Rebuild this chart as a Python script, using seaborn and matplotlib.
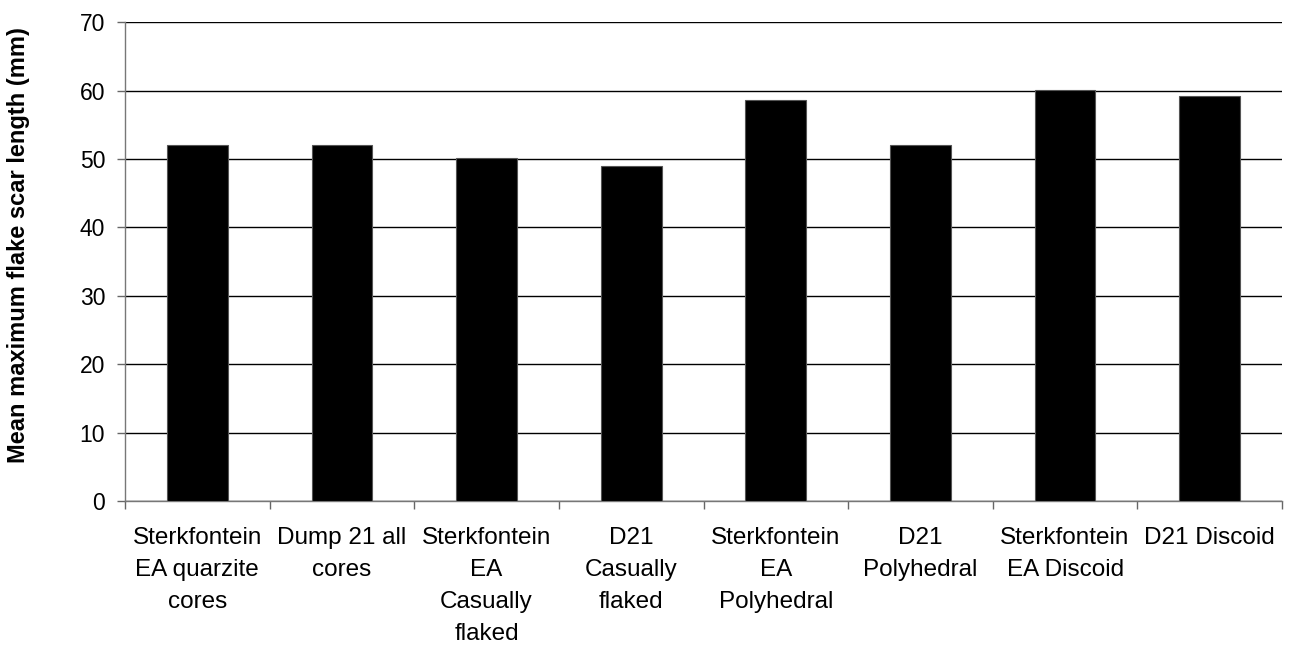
import matplotlib
matplotlib.use("Agg")
import matplotlib.pyplot as plt
import seaborn as sns
import pandas as pd
import numpy as np

categories = [
    "Sterkfontein\nEA quarzite\ncores",
    "Dump 21 all\ncores",
    "Sterkfontein\nEA\nCasually\nflaked",
    "D21\nCasually\nflaked",
    "Sterkfontein\nEA\nPolyhedral",
    "D21\nPolyhedral",
    "Sterkfontein\nEA Discoid",
    "D21 Discoid",
]
values = [52.1, 52.1, 50.1, 49.0, 58.6, 52.1, 60.1, 59.2]
yticks = [0, 10, 20, 30, 40, 50, 60, 70]

sns.set_theme(style="white")
plt.rcParams['font.family'] = ['Liberation Sans', 'DejaVu Sans']
plt.rcParams['text.color'] = 'black'
plt.rcParams['xtick.color'] = 'black'
plt.rcParams['ytick.color'] = 'black'
plt.rcParams['axes.labelcolor'] = 'black'

df = pd.DataFrame({"cat": categories, "val": values})

fig = plt.figure(figsize=(12.93, 6.45), dpi=100)
ax = fig.add_axes([0.0967, 0.2233, 0.8948, 0.7421])
sns.barplot(data=df, x="cat", y="val", color="black", width=0.42,
            edgecolor="#555555", linewidth=0.8, saturation=1, ax=ax, zorder=3)

ax.set_ylim(0, 70)
ax.set_xlim(-0.5, len(categories) - 0.5)
ax.set_yticks(yticks)
ax.set_yticklabels([str(t) for t in yticks], fontsize=16.5, color="black")
ax.yaxis.grid(True, color="black", linewidth=1.0, zorder=0)
ax.xaxis.grid(False)
ax.set_axisbelow(True)

ax.set_xticks(range(len(categories)))
ax.set_xticklabels(categories, fontsize=17.5, linespacing=1.6, va="top", color="black")
ax.tick_params(axis="x", which="major", length=0, pad=18.5)
ax.set_xticks(np.arange(-0.5, len(categories), 1.0), minor=True)
ax.tick_params(axis="x", which="minor", length=5.8, width=1, color="#666666", direction="out", bottom=True)
ax.tick_params(axis="y", which="major", length=5.8, width=1, color="#666666", direction="out", left=True, pad=8.5)

for s in ["top", "right"]:
    ax.spines[s].set_visible(False)
for s in ["left", "bottom"]:
    ax.spines[s].set_color("#777777")
    ax.spines[s].set_linewidth(1.0)

ax.set_xlabel("")
ax.set_ylabel("")
fig.text(19 / 1293, 1 - 245 / 645, "Mean maximum flake scar length (mm)",
         rotation=90, ha="center", va="center", fontsize=17, fontweight="bold", color="black")

fig.savefig("out.png", dpi=100, facecolor="white")
